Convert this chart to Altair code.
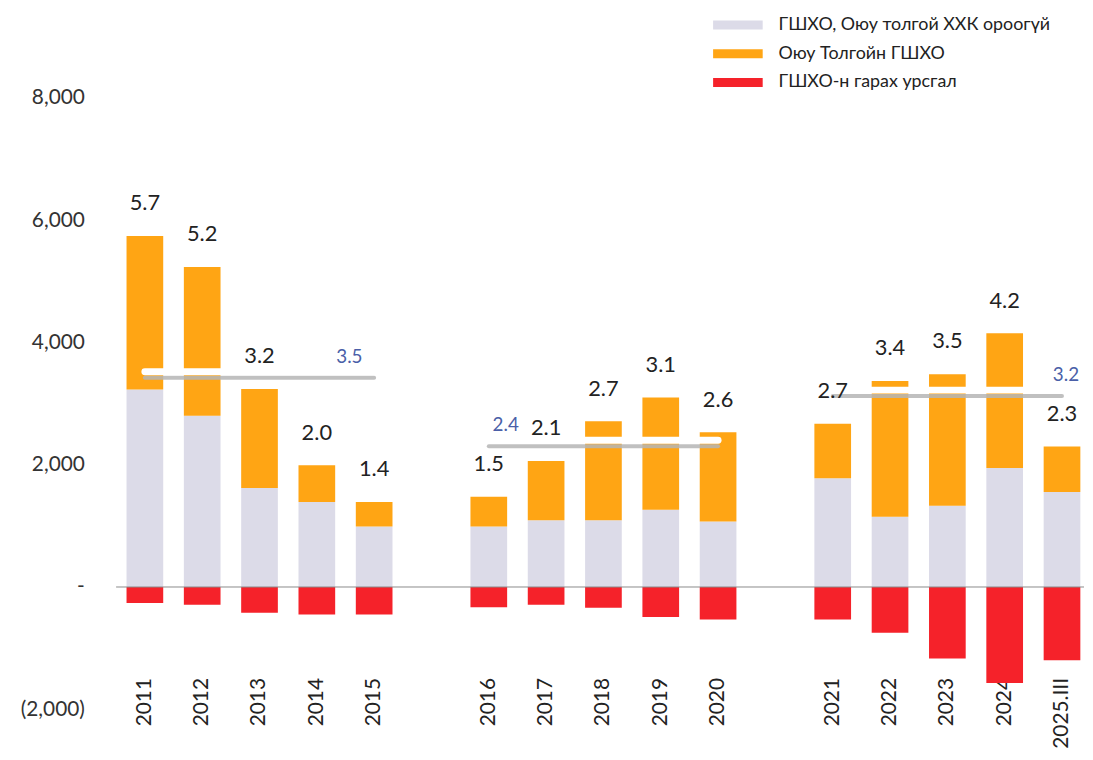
import altair as alt
import pandas as pd

# ---- data (values in USD million) ----
years = ["2011", "2012", "2013", "2014", "2015",
         "2016", "2017", "2018", "2019", "2020",
         "2021", "2022", "2023", "2024", "2025.III"]
non_ot_fdi = [3230, 2800, 1620, 1390, 990,
              990, 1090, 1090, 1265, 1070,
              1780, 1150, 1330, 1945, 1555]
ot_fdi = [2510, 2435, 1620, 600, 400,
          485, 970, 1620, 1835, 1460,
          890, 2220, 2150, 2205, 745]
outflow = [-260, -290, -420, -450, -450,
           -330, -290, -340, -490, -530,
           -530, -750, -1170, -1570, -1200]
total_labels = ["5.7", "5.2", "3.2", "2.0", "1.4",
                "1.5", "2.1", "2.7", "3.1", "2.6",
                "2.7", "3.4", "3.5", "4.2", "2.3"]

periods = ["2011-2015", "2016-2020", "2021-2025"]
period_start = ["2011", "2016", "2021"]
period_end = ["2015", "2020", "2025.III"]
period_avg = [3520, 2400, 3220]
period_avg_labels = ["3.5", "2.4", "3.2"]

series_names = ["ГШХО, Оюу толгой ХХК ороогүй", "Оюу Толгойн ГШХО", "ГШХО-н гарах урсгал"]
series_colors = ["#DCDBE8", "#FFA514", "#F5222A"]

y_ticks = [-2000, 0, 2000, 4000, 6000, 8000]
x_domain = years[:5] + [" "] + years[5:10] + ["  "] + years[10:]

# ---- tables ----
rows = []
for i, y in enumerate(years):
    rows.append({"year": y, "series": series_names[0], "value": non_ot_fdi[i], "order": 0})
    rows.append({"year": y, "series": series_names[1], "value": ot_fdi[i], "order": 1})
    rows.append({"year": y, "series": series_names[2], "value": outflow[i], "order": 2})
bar_df = pd.DataFrame(rows)

tot_df = pd.DataFrame({
    "year": years,
    "total": [a + b for a, b in zip(non_ot_fdi, ot_fdi)],
    "label": total_labels,
})

avg_df = pd.DataFrame({
    "period": periods,
    "start": period_start,
    "end": period_end,
    "avg": period_avg,
    "label": period_avg_labels,
})

FONT = "Lato"

x_scale = alt.Scale(domain=x_domain, paddingInner=0.36, paddingOuter=0.123, align=0.74)
y_scale = alt.Scale(domain=[-2000, 9340], nice=False, zero=False)

x_axis = alt.Axis(title=None, labelAngle=-90, ticks=False, domain=False, grid=False, labelFontSize=21,
                  labelColor="#222222", labelFont=FONT, offset=-34, labelPadding=2)
y_axis = alt.Axis(title=None, values=y_ticks, ticks=False, domain=False, grid=False,
                  labelFontSize=21, labelColor="#333333", labelFont=FONT, labelPadding=32,
                  minExtent=104, maxExtent=104,
                  labelExpr="datum.value == 0 ? '-' : (datum.value < 0 ? '(' + format(-datum.value, ',') + ')' : format(datum.value, ','))")

bars = alt.Chart(bar_df).mark_bar().encode(
    x=alt.X("year:N", scale=x_scale, axis=x_axis, sort=x_domain),
    y=alt.Y("value:Q", stack="zero", scale=y_scale, axis=y_axis),
    color=alt.Color("series:N",
                    scale=alt.Scale(domain=series_names, range=series_colors),
                    legend=alt.Legend(title=None, orient="none", legendX=618, legendY=0,
                                      symbolType="M-5,-0.9H5V0.9H-5Z", symbolSize=100,
                                      symbolStrokeWidth=0, labelOffset=32, labelFontSize=18,
                                      labelFont=FONT, labelColor="#222222", rowPadding=11,
                                      padding=0, labelLimit=400)),
    order=alt.Order("order:Q"),
)

zero_rule = alt.Chart(pd.DataFrame({"v": [0]})).mark_rule(color="#8a8a8a", strokeWidth=1).encode(
    y=alt.Y("v:Q", scale=y_scale)
)

shadow = alt.Chart(avg_df).mark_rule(color="#b5b5b5", strokeWidth=4, strokeCap="round",
                                     yOffset=6, opacity=0.85).encode(
    x=alt.X("start:N", scale=x_scale),
    x2="end:N",
    y=alt.Y("avg:Q", scale=y_scale),
)
avg_line = alt.Chart(avg_df).mark_rule(color="#ffffff", strokeWidth=7, strokeCap="round").encode(
    x=alt.X("start:N", scale=x_scale),
    x2="end:N",
    y=alt.Y("avg:Q", scale=y_scale),
)

def avg_text(period, anchor_field, dx):
    return alt.Chart(avg_df).transform_filter(alt.datum.period == period).mark_text(
        color="#4A5FA8", fontSize=19, font=FONT, dy=-15, dx=dx, baseline="middle"
    ).encode(
        x=alt.X(f"{anchor_field}:N", scale=x_scale),
        y=alt.Y("avg:Q", scale=y_scale),
        text="label:N",
    )

avg_t1 = avg_text(periods[0], "end", -25)
avg_t2 = avg_text(periods[1], "start", 17)
avg_t3 = avg_text(periods[2], "end", 4)

tot_text = alt.Chart(tot_df).mark_text(
    color="#222222", fontSize=22, font=FONT, dy=-33, baseline="middle"
).encode(
    x=alt.X("year:N", scale=x_scale),
    y=alt.Y("total:Q", scale=y_scale),
    text="label:N",
)

chart = alt.layer(bars, zero_rule, shadow, avg_line, avg_t1, avg_t2, avg_t3, tot_text).properties(
    width=976, height=699,
    padding={"left": 5, "top": 5, "right": 0, "bottom": 0},
).configure(font=FONT).configure_view(strokeWidth=0, stroke="transparent").configure_axis(
    grid=False, domain=False, ticks=False
)

chart.save("out.html", embed_options={"renderer": "svg", "actions": False})
